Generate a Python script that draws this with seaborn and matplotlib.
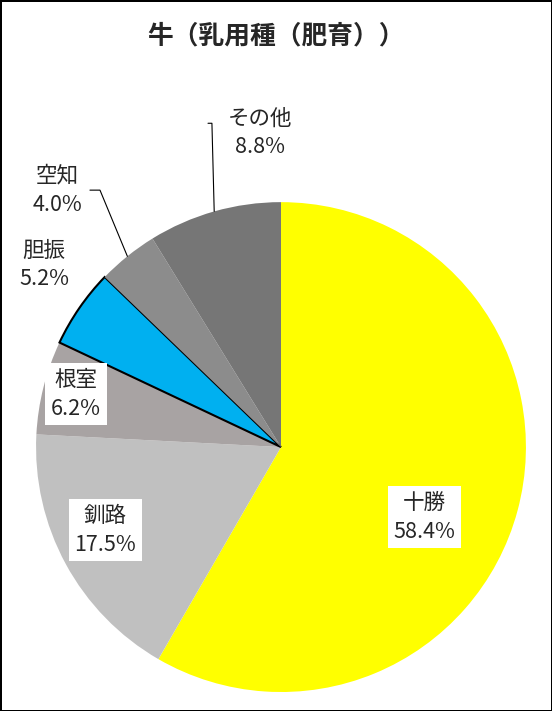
import numpy as np
import matplotlib.pyplot as plt
import seaborn as sns

sns.set_style("white")
plt.rcParams['font.family'] = ['Noto Sans CJK JP', 'DejaVu Sans']

regions = ['十勝', '釧路', '根室', '胆振', '空知', 'その他']
shares = [58.4, 17.5, 6.2, 5.2, 4.0, 8.8]
colors = ['#FFFF00', '#C0C0C0', '#A8A3A3', '#00B0F0', '#8C8C8C', '#767676']

# label positions in units of the pie radius
label_pos = [(0.584, -0.286), (-0.718, -0.339), (-0.837, 0.216),
             (-0.967, 0.743), (-0.914, 1.049), (-0.086, 1.282)]
boxed = [True, True, True, False, False, False]

fig = plt.figure(figsize=(5.52, 7.11), dpi=100)
fig.patch.set_edgecolor('black')
fig.patch.set_linewidth(2)
ax = fig.add_axes([0.0652, 0.0267, 0.8877, 0.689])

wedges, _ = ax.pie(shares, colors=colors, startangle=90, counterclock=False,
                   radius=1, wedgeprops=dict(linewidth=0))
wedges[3].set_edgecolor('black')
wedges[3].set_linewidth(1.5)
ax.set_xlim(-1, 1)
ax.set_ylim(-1, 1)

for name, val, (x, y), b in zip(regions, shares, label_pos, boxed):
    ax.text(x, y, f'{name}\n{val:.1f}%', ha='center', va='center', fontsize=15.5,
            linespacing=1.4,
            bbox=dict(facecolor='white', edgecolor='none', pad=4) if b else None)

# leader lines for 空知 and その他
leaders = {4: ((-0.739, 1.049), (-0.78, 1.049)), 5: ((-0.282, 1.322), (-0.298, 1.322))}
for i, (elbow, end) in leaders.items():
    w = wedges[i]
    mid = np.deg2rad((w.theta1 + w.theta2) / 2)
    edge = (np.cos(mid), np.sin(mid))
    ax.plot([edge[0], elbow[0], end[0]], [edge[1], elbow[1], end[1]],
            color='black', lw=0.8, clip_on=False)

fig.text(0.5, 1 - 36 / 711, '牛（乳用種（肥育））', ha='center', va='center',
         fontsize=18.5, fontweight='bold')

fig.savefig('out.png', dpi=100)
